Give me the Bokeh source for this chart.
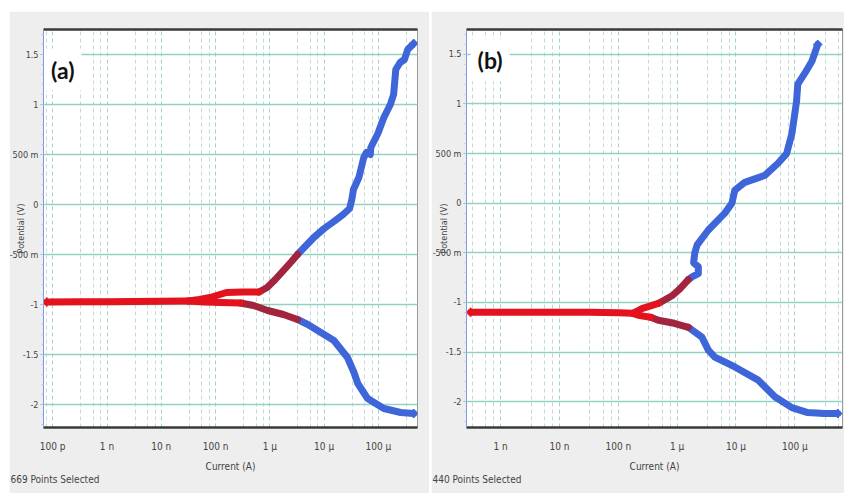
import numpy as np
from bokeh.plotting import figure
from bokeh.layouts import row
from bokeh.models import (FixedTicker, CustomJSTickFormatter, Label, LogAxis,
                          Range1d, Title)
from bokeh.embed import file_html
from bokeh.resources import INLINE

# ---------------- tick data ----------------
x_decades = [-10, -9, -8, -7, -6, -5, -4]
x_labels = ["100 p", "1 n", "10 n", "100 n", "1 µ", "10 µ", "100 µ"]
y_ticks = [-2, -1.5, -1, -0.5, 0, 0.5, 1, 1.5]
y_labels = ["-2", "-1.5", "-1", "-500 m", "0", "500 m", "1", "1.5"]
minor_mult = [3.3, 5.6, 7.7]

# ---------------- panel (a) data: log10(I / A), E / V ----------------
a_common_logI = [-10.11, -9.5, -9.0, -8.5, -8.0, -7.6, -7.5]
a_common_E = [-0.975, -0.972, -0.972, -0.970, -0.968, -0.965, -0.965]

a_anod_red_logI = [-7.5, -7.3, -7.1, -6.95, -6.8, -6.5, -6.2]
a_anod_red_E = [-0.965, -0.95, -0.93, -0.905, -0.88, -0.875, -0.875]
a_anod_mar_logI = [-6.2, -6.05, -5.9, -5.75, -5.6, -5.49]
a_anod_mar_E = [-0.875, -0.83, -0.75, -0.66, -0.57, -0.50]
a_anod_blue_logI = [-5.49, -5.35, -5.19, -5.0, -4.82, -4.65, -4.53, -4.49,
                    -4.46, -4.36, -4.27, -4.22, -4.15, -4.14, -4.01, -3.9,
                    -3.78, -3.72, -3.68, -3.6, -3.52, -3.46, -3.35]
a_anod_blue_E = [-0.50, -0.42, -0.33, -0.24, -0.17, -0.10, -0.04, 0.05,
                 0.15, 0.27, 0.47, 0.52, 0.50, 0.57, 0.71, 0.87,
                 1.0, 1.1, 1.35, 1.42, 1.45, 1.55, 1.61]

a_cath_red_logI = [-7.5, -7.2, -6.9, -6.54]
a_cath_red_E = [-0.965, -0.975, -0.98, -0.985]
a_cath_mar_logI = [-6.54, -6.3, -6.04, -5.75, -5.49]
a_cath_mar_E = [-0.985, -1.01, -1.06, -1.10, -1.15]
a_cath_blue_logI = [-5.49, -5.3, -5.12, -4.82, -4.57, -4.45, -4.38, -4.2,
                    -3.9, -3.59, -3.35]
a_cath_blue_E = [-1.15, -1.20, -1.26, -1.36, -1.53, -1.68, -1.79, -1.94,
                 -2.04, -2.08, -2.09]

# ---------------- panel (b) data ----------------
b_common_logI = [-9.51, -9.0, -8.5, -8.0, -7.5, -7.0, -6.75]
b_common_E = [-1.10, -1.10, -1.10, -1.10, -1.10, -1.105, -1.11]

b_anod_red_logI = [-6.75, -6.59, -6.45, -6.32]
b_anod_red_E = [-1.11, -1.06, -1.035, -1.01]
b_anod_mar_logI = [-6.32, -6.08, -5.95, -5.81]
b_anod_mar_E = [-1.01, -0.93, -0.86, -0.77]
b_anod_blue_logI = [-5.81, -5.74, -5.64, -5.64, -5.72, -5.70, -5.66, -5.47,
                    -5.19, -5.07, -5.02, -4.85, -4.51, -4.29, -4.14, -4.05,
                    -3.97, -3.95, -3.83, -3.71, -3.61]
b_anod_blue_E = [-0.77, -0.74, -0.71, -0.64, -0.60, -0.50, -0.42, -0.27,
                 -0.10, 0.0, 0.13, 0.21, 0.28, 0.40, 0.50, 0.70,
                 1.03, 1.20, 1.31, 1.43, 1.60]

b_cath_red_logI = [-6.75, -6.66, -6.45]
b_cath_red_E = [-1.11, -1.13, -1.15]
b_cath_mar_logI = [-6.45, -6.32, -6.05, -5.81]
b_cath_mar_E = [-1.15, -1.18, -1.21, -1.25]
b_cath_blue_logI = [-5.81, -5.58, -5.47, -5.36, -5.02, -4.63, -4.34, -4.05,
                    -3.78, -3.50, -3.27]
b_cath_blue_E = [-1.25, -1.35, -1.48, -1.55, -1.65, -1.78, -1.95, -2.06,
                 -2.11, -2.12, -2.12]

BLUE = "#3f66d9"
RED = "#e3121c"
MAROON = "#a3243f"
PANEL = "#eeeeee"
FONT = "Liberation Sans Narrow, DejaVu Sans Condensed, sans-serif"


def make_panel(width, xr, yr, borders, segments, tag, tag_pos, npoints):
    bl, br, bt, bb = borders
    p = figure(width=width, height=482, x_axis_type="log",
               x_range=Range1d(10 ** xr[0], 10 ** xr[1]),
               y_range=Range1d(yr[0], yr[1]),
               output_backend="svg", toolbar_location=None,
               min_border_left=bl, min_border_right=br,
               min_border_top=bt, min_border_bottom=bb,
               background_fill_color="white", border_fill_color=PANEL)
    p.outline_line_color = "#9a9a9a"
    p.outline_line_width = 1

    # grids
    decades = [10.0 ** d for d in range(-11, -2)]
    minors = [m * 10.0 ** d for d in range(-11, -2) for m in minor_mult]
    p.xgrid.ticker = FixedTicker(ticks=decades, minor_ticks=minors)
    p.xgrid.grid_line_color = "#9fd3cb"
    p.xgrid.grid_line_dash = "4 3"
    p.xgrid.grid_line_width = 1
    p.xgrid.minor_grid_line_color = "#c3d9d9"
    p.xgrid.minor_grid_line_dash = "4 3"
    p.ygrid.ticker = FixedTicker(ticks=y_ticks)
    p.ygrid.grid_line_color = "#93d1c1"
    p.ygrid.grid_line_width = 1.6

    # x axis
    xa = p.xaxis[0]
    xa.ticker = FixedTicker(ticks=[10.0 ** d for d in x_decades])
    xa.formatter = CustomJSTickFormatter(
        args=dict(dec=x_decades, lab=x_labels),
        code="const e = Math.round(Math.log10(tick)); const i = dec.indexOf(e); return i >= 0 ? lab[i] : '';")
    xa.axis_line_color = "#3a3a3a"
    xa.axis_line_width = 2.5
    xa.major_tick_line_color = None
    xa.minor_tick_line_color = None
    xa.major_label_standoff = 7
    xa.major_label_text_font = FONT
    xa.major_label_text_font_size = "10px"
    xa.major_label_text_color = "#444444"
    xa.axis_label = "Current (A)"
    xa.axis_label_standoff = 6
    xa.axis_label_text_font = FONT
    xa.axis_label_text_font_size = "10px"
    xa.axis_label_text_font_style = "normal"
    xa.axis_label_text_color = "#444444"

    # y axis
    ya = p.yaxis[0]
    ya.ticker = FixedTicker(ticks=y_ticks,
                            minor_ticks=[round(v * 0.1, 1) for v in range(-22, 18)])
    ya.formatter = CustomJSTickFormatter(
        args=dict(tk=y_ticks, lab=y_labels),
        code="for (let i = 0; i < tk.length; i++) { if (Math.abs(tk[i] - tick) < 1e-6) return lab[i]; } return '';")
    ya.axis_line_color = "#7d9be3"
    ya.axis_line_width = 1
    ya.major_tick_line_color = "#8aa0d0"
    ya.major_tick_out = 3
    ya.major_tick_in = 0
    ya.minor_tick_line_color = "#b8c6e6"
    ya.minor_tick_out = 2
    ya.minor_tick_in = 0
    ya.major_label_standoff = 2
    ya.major_label_text_font = FONT
    ya.major_label_text_font_size = "9px"
    ya.major_label_text_color = "#444444"
    ya.axis_label = "Potential (V)"
    ya.axis_label_standoff = -19
    ya.axis_label_text_font = FONT
    ya.axis_label_text_font_size = "9px"
    ya.axis_label_text_font_style = "normal"
    ya.axis_label_text_color = "#444444"

    # top border as an axis
    top = LogAxis(ticker=FixedTicker(ticks=[]), axis_line_color="#3a3a3a",
                  axis_line_width=2.5, major_tick_line_color=None,
                  minor_tick_line_color=None, major_label_text_font_size="0px",
                  major_label_standoff=0)
    p.add_layout(top, "above")

    # footer text
    p.add_layout(Title(text=f"{npoints} Points Selected", align="left",
                       offset=-(bl - 1), standoff=-6, text_font=FONT,
                       text_font_size="10px", text_font_style="normal",
                       text_color="#444444"), "below")

    # curves
    for xs, ys, col in segments:
        p.line(10.0 ** np.array(xs), ys, line_color=col, line_width=7,
               line_cap="round", line_join="round")
    ends_x = [segments[-1][0][0], segments[0][0][-1], segments[1][0][-1]]
    ends_y = [segments[-1][1][0], segments[0][1][-1], segments[1][1][-1]]
    p.scatter(10.0 ** np.array(ends_x), ends_y, marker="cross", size=9,
              line_color=[RED, BLUE, BLUE], line_width=2)

    # panel tag
    p.add_layout(Label(x=10 ** tag_pos[0], y=tag_pos[1], text=tag,
                       text_font="Lato", text_font_style="bold",
                       text_font_size="23px", text_baseline="middle",
                       text_color="#111111",
                       background_fill_color="white", padding=7))
    return p


# drawing order: blue first so red / maroon sit on top; common red last
seg_a = [
    (a_anod_blue_logI, a_anod_blue_E, BLUE),
    (a_cath_blue_logI, a_cath_blue_E, BLUE),
    (a_anod_mar_logI, a_anod_mar_E, MAROON),
    (a_cath_mar_logI, a_cath_mar_E, MAROON),
    (a_anod_red_logI, a_anod_red_E, RED),
    (a_cath_red_logI, a_cath_red_E, RED),
    (a_common_logI, a_common_E, RED),
]
seg_b = [
    (b_anod_blue_logI, b_anod_blue_E, BLUE),
    (b_cath_blue_logI, b_cath_blue_E, BLUE),
    (b_anod_mar_logI, b_anod_mar_E, MAROON),
    (b_cath_mar_logI, b_cath_mar_E, MAROON),
    (b_anod_red_logI, b_anod_red_E, RED),
    (b_cath_red_logI, b_cath_red_E, RED),
    (b_common_logI, b_common_E, RED),
]

pa = make_panel(420, (-10.17, -3.28), (-2.23, 1.75), (34, 12, 18, 66),
                seg_a, "(a)", (-10.16, 1.35), 669)
pb = make_panel(413, (-9.58, -3.19), (-2.26, 1.75), (35, 2, 18, 65),
                seg_b, "(b)", (-9.51, 1.44), 440)
pa.margin = (11, 0, 0, 9)
pb.margin = (11, 0, 0, 2)

layout = row(pa, pb)
open("out.html", "w").write(file_html(layout, INLINE))
